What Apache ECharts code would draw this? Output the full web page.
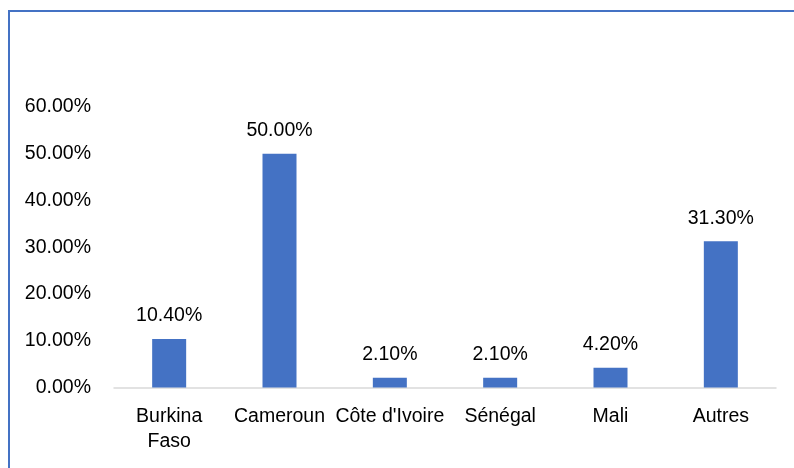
<!DOCTYPE html>
<html>
<head>
<meta charset="utf-8">
<script src="https://cdn.jsdelivr.net/npm/echarts@6/dist/echarts.min.js"></script>
<style>
html, body { margin: 0; padding: 0; background: #fff; }
#main { width: 794px; height: 468px; }
</style>
</head>
<body>
<div id="main"></div>
<script>
// pays
var categories = ['Burkina\nFaso', 'Cameroun', 'Côte d\'Ivoire', 'Sénégal', 'Mali', 'Autres'];
// part en %
var values = [10.4, 50.0, 2.1, 2.1, 4.2, 31.3];
// axe y
var yMin = 0, yMax = 60, yStep = 10;

var barColor = '#4472C4';
var font = '"Liberation Sans", Arial, sans-serif';
var fs = 19.5;

var chart = echarts.init(document.getElementById('main'));

var opt = {
    animation: false,
    graphic: [{
        type: 'rect',
        shape: { x: 9, y: 11, width: 820, height: 520 },
        style: { fill: 'none', stroke: barColor, lineWidth: 2 },
        silent: true
    }],
    grid: {
        left: 114,
        right: 18,
        top: 107,
        bottom: 80.5
    },
    xAxis: {
        type: 'category',
        data: categories,
        axisLine: { lineStyle: { color: '#d9d9d9', width: 1.5 } },
        axisTick: { show: false },
        axisLabel: {
            color: '#000',
            fontFamily: font,
            fontSize: fs,
            lineHeight: 25,
            margin: 17,
            interval: 0
        }
    },
    yAxis: {
        type: 'value',
        min: yMin,
        max: yMax,
        interval: yStep,
        splitLine: { show: false },
        axisLine: { show: false },
        axisTick: { show: false },
        axisLabel: {
            color: '#000',
            fontFamily: font,
            fontSize: fs,
            margin: 23,
            formatter: function (v) { return v.toFixed(2) + '%'; }
        }
    },
    series: [{
        type: 'bar',
        data: values,
        barWidth: 34,
        itemStyle: { color: barColor },
        label: {
            show: true,
            position: 'top',
            distance: 13,
            color: '#000',
            fontFamily: font,
            fontSize: fs,
            formatter: function (p) { return p.value.toFixed(2) + '%'; }
        }
    }]
};
chart.setOption(opt);
</script>
</body>
</html>
